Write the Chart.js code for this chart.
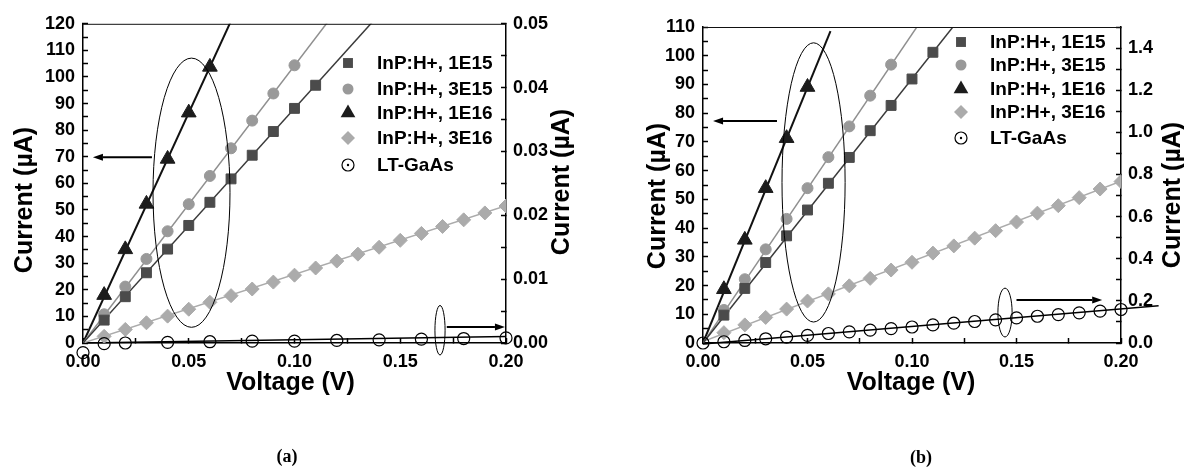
<!DOCTYPE html>
<html>
<head>
<meta charset="utf-8">
<script src="https://cdn.jsdelivr.net/npm/chart.js@4.4.1/dist/chart.umd.min.js"></script>
<style>
  html, body { margin: 0; padding: 0; background: #fff; }
  body { width: 1184px; height: 469px; position: relative; overflow: hidden; }
  canvas { position: absolute; top: 0; }
  #chart-a { left: 0; }
  #chart-b { left: 600px; }
  .panel-label {
    position: absolute;
    font: bold 18px "Liberation Serif", "Times New Roman", serif;
    transform: translate(-50%, -50%);
  }
</style>
</head>
<body>
<canvas id="chart-a" width="600" height="469"></canvas>
<canvas id="chart-b" width="584" height="469"></canvas>
<div class="panel-label" style="left:287px; top:456px">(a)</div>
<div class="panel-label" style="left:921px; top:457px">(b)</div>
<script>
Chart.defaults.font.family = '"Liberation Sans", Arial, sans-serif';
Chart.defaults.color = '#000';

const seriesLabels = ['InP:H+, 1E15', 'InP:H+, 3E15', 'InP:H+, 1E16', 'InP:H+, 3E16', 'LT-GaAs'];

// bias steps of the InP:H+ samples (V)
const voltage = [0.01, 0.02, 0.03, 0.04, 0.05, 0.06, 0.07, 0.08, 0.09, 0.10,
                 0.11, 0.12, 0.13, 0.14, 0.15, 0.16, 0.17, 0.18, 0.19, 0.20];

// ---- panel (a), currents in uA ----
const a1E15 = [8.6, 17.4, 26.4, 35.3, 44.2, 52.9, 61.7, 70.6, 79.5, 88.2, 96.9];
const a3E15 = [10.8, 21.2, 31.6, 42.0, 52.2, 62.8, 73.2, 83.6, 93.8, 104.4];
const a1E16 = [18.0, 35.2, 52.3, 69.2, 86.6, 103.8];
const a3E16 = [2.5, 5.1, 7.6, 10.1, 12.7, 15.3, 17.8, 20.3, 22.9, 25.5,
               28.2, 30.8, 33.4, 36.0, 38.6, 41.2, 43.8, 46.3, 48.9, 51.5];
const aGaAsVoltage = [0, 0.01, 0.02, 0.04, 0.06, 0.08, 0.10, 0.12, 0.14, 0.16, 0.18, 0.20];
const aGaAs = [-0.0015, -0.0001, 0.0000, 0.0001, 0.0002, 0.0003, 0.0003, 0.0004, 0.0005, 0.0006, 0.0007, 0.0008];
// linear fits: start voltage/current, end voltage/current
const aFitStartV = [0, 0, 0, 0, 0];
const aFitStartI = [0, 0, 0, 0, 0];
const aFitEndV = [0.20, 0.20, 0.20, 0.20, 0.20];
const aFitEndI = [176.4, 208.6, 346, 51.6, 0.0010];
// [centre V, centre I, half width V, half height I] and [from V, from I, to V, to I]
const aEllipses = [[0.0513, 56.5, 0.0182, 50.6], [0.1688, 4.8, 0.0024, 9.3]];
const aArrows = [[0.0326, 69.8, 0.0047, 69.8], [0.172, 6.0, 0.1995, 6.0]];

// ---- panel (b) ----
const b1E15 = [9.7, 19.0, 28.0, 37.3, 46.3, 55.6, 64.6, 73.9, 82.7, 91.9, 101.2];
const b3E15 = [11.5, 22.2, 32.6, 43.2, 53.9, 64.7, 75.4, 86.1, 96.9];
const b1E16 = [18.7, 35.9, 53.9, 71.3, 89.1];
const b3E16 = [3.6, 6.3, 8.9, 11.8, 14.6, 17.1, 19.9, 22.5, 25.4, 28.1,
               31.3, 33.8, 36.5, 39.1, 42.1, 45.2, 47.8, 50.6, 53.6, 56.2];
const bGaAsVoltage = [0, 0.01, 0.02, 0.03, 0.04, 0.05, 0.06, 0.07, 0.08, 0.09, 0.10,
                      0.11, 0.12, 0.13, 0.14, 0.15, 0.16, 0.17, 0.18, 0.19, 0.20];
const bGaAs = [0.000, 0.006, 0.012, 0.020, 0.028, 0.036, 0.045, 0.053, 0.061, 0.068, 0.076,
               0.086, 0.094, 0.102, 0.110, 0.119, 0.127, 0.135, 0.143, 0.151, 0.159];
const bFitStartV = [0, 0, 0, 0, 0];
const bFitStartI = [0, 0, 0, 0.5, -0.005];
const bFitEndV = [0.20, 0.20, 0.061, 0.20, 0.218];
const bFitEndI = [184, 215, 108.6, 56.3, 0.177];
const bEllipses = [[0.0529, 55.9, 0.0151, 48.6], [0.1445, 10.6, 0.0034, 8.5]];
const bArrows = [[0.0354, 77.3, 0.0048, 77.3], [0.150, 15.0, 0.191, 15.0]];

const markerStyles = [
  {shape: 'rect', radius: 7, color: '#4b4b4b', line: '#3a3a3a', lineWidth: 1.5},
  {shape: 'circle', radius: 5.5, color: '#999999', line: '#8f8f8f', lineWidth: 1.5},
  {shape: 'triangle', radius: 8.5, color: '#1c1c1c', line: '#111111', lineWidth: 2},
  {shape: 'rectRot', radius: 7, color: '#ababab', line: '#ababab', lineWidth: 1.5},
  {shape: 'circle', radius: 6, color: 'rgba(255,255,255,0)', line: '#000000', lineWidth: 1.5},
];

const tickFont = {size: 18, weight: 'bold'};
const titleFont = 'bold 25px "Liberation Sans", Arial, sans-serif';
const legendFont = 'bold 19px "Liberation Sans", Arial, sans-serif';

function buildDatasets(series, gaasV, gaas, fs) {
  const sets = [];
  series.forEach((cur, i) => {
    const st = markerStyles[i];
    sets.push({
      label: seriesLabels[i],
      data: cur.map((c, k) => ({x: voltage[k], y: c})),
      yAxisID: 'y',
      pointStyle: st.shape,
      pointRadius: st.radius,
      pointHoverRadius: st.radius,
      pointBackgroundColor: st.color,
      pointBorderColor: st.color,
      pointBorderWidth: 1,
      showLine: false,
      order: i + 1,
    });
  });
  sets.push({
    label: seriesLabels[4],
    data: gaas.map((c, k) => ({x: gaasV[k], y: c})),
    yAxisID: 'y2',
    pointStyle: 'circle',
    pointRadius: 6,
    pointHoverRadius: 13,
    pointBackgroundColor: 'rgba(255,255,255,0)',
    pointBorderColor: '#000',
    pointBorderWidth: 1.2,
    showLine: false,
    clip: false,
    order: 0,
  });
  fs.endV.forEach((v, i) => {
    const st = markerStyles[i];
    const ds = {
      label: seriesLabels[i] + ' fit',
      data: [{x: fs.startV[i], y: fs.startI[i]}, {x: v, y: fs.endI[i]}],
      yAxisID: i === 4 ? 'y2' : 'y',
      showLine: true,
      pointRadius: 0,
      borderColor: st.line,
      borderWidth: st.lineWidth,
      order: 10,
    };
    if (i === 4) ds.clip = false;
    sets.push(ds);
  });
  return sets;
}

function drawMarker(ctx, shape, x, y, r) {
  ctx.beginPath();
  if (shape === 'circle') {
    ctx.arc(x, y, r, 0, Math.PI * 2);
  } else if (shape === 'rect') {
    const s = r * Math.SQRT1_2;
    ctx.rect(x - s, y - s, 2 * s, 2 * s);
  } else if (shape === 'triangle') {
    ctx.moveTo(x, y - r);
    ctx.lineTo(x + r * 0.866, y + r / 2);
    ctx.lineTo(x - r * 0.866, y + r / 2);
    ctx.closePath();
  } else if (shape === 'rectRot') {
    ctx.moveTo(x, y - r);
    ctx.lineTo(x + r, y);
    ctx.lineTo(x, y + r);
    ctx.lineTo(x - r, y);
    ctx.closePath();
  }
}

function figurePlugin(cfg) {
  return {
    id: 'figureDecor',
    afterDatasetsDraw(chart) {
      const {ctx, chartArea: area, scales} = chart;
      const px = v => scales.x.getPixelForValue(v);
      const py = v => scales.y.getPixelForValue(v);
      ctx.save();
      // frame top
      ctx.strokeStyle = '#111';
      ctx.lineWidth = 1;
      ctx.beginPath();
      ctx.moveTo(area.left, area.top + 0.5);
      ctx.lineTo(area.right, area.top + 0.5);
      ctx.stroke();
      // ellipses
      cfg.ellipses.forEach(e => {
        const cx = px(e[0]), cy = py(e[1]);
        const rx = Math.abs(px(e[0] + e[2]) - cx), ry = Math.abs(py(e[1] + e[3]) - cy);
        ctx.beginPath();
        ctx.ellipse(cx, cy, rx, ry, 0, 0, Math.PI * 2);
        ctx.lineWidth = 1;
        ctx.strokeStyle = '#000';
        ctx.stroke();
      });
      // arrows
      cfg.arrows.forEach(a => {
        const x1 = px(a[0]), y1 = py(a[1]), x2 = px(a[2]), y2 = py(a[3]);
        const ang = Math.atan2(y2 - y1, x2 - x1);
        const head = 10, half = 3.5;
        ctx.beginPath();
        ctx.moveTo(x1, y1);
        ctx.lineTo(x2 - Math.cos(ang) * head, y2 - Math.sin(ang) * head);
        ctx.lineWidth = 2;
        ctx.strokeStyle = '#000';
        ctx.stroke();
        ctx.beginPath();
        ctx.moveTo(x2, y2);
        ctx.lineTo(x2 - Math.cos(ang) * head - Math.sin(ang) * half, y2 - Math.sin(ang) * head + Math.cos(ang) * half);
        ctx.lineTo(x2 - Math.cos(ang) * head + Math.sin(ang) * half, y2 - Math.sin(ang) * head - Math.cos(ang) * half);
        ctx.closePath();
        ctx.fillStyle = '#000';
        ctx.fill();
      });
      ctx.restore();
    },
    afterDraw(chart) {
      const {ctx, chartArea: area} = chart;
      ctx.save();
      ctx.fillStyle = '#000';
      ctx.font = titleFont;
      ctx.textAlign = 'center';
      ctx.textBaseline = 'middle';
      // axis titles
      ctx.fillText('Voltage (V)', (area.left + area.right) / 2 + cfg.xTitle[0], area.bottom + cfg.xTitle[1]);
      [[area.left - cfg.leftTitle[0], cfg.leftTitle[1]], [area.right + cfg.rightTitle[0], cfg.rightTitle[1]]].forEach(p => {
        ctx.save();
        ctx.translate(p[0], p[1]);
        ctx.rotate(-Math.PI / 2);
        ctx.fillText('Current (\u00b5A)', 0, 0);
        ctx.restore();
      });
      // legend
      ctx.font = legendFont;
      ctx.textAlign = 'left';
      seriesLabels.forEach((label, i) => {
        const st = markerStyles[i];
        const y = cfg.legend.rows[i];
        drawMarker(ctx, st.shape, cfg.legend.x, y, st.radius);
        if (i === 4) {
          ctx.lineWidth = 1.2;
          ctx.strokeStyle = '#000';
          ctx.stroke();
          ctx.beginPath();
          ctx.arc(cfg.legend.x, y, 1.2, 0, Math.PI * 2);
          ctx.fillStyle = '#000';
          ctx.fill();
        } else {
          ctx.fillStyle = st.color;
          ctx.fill();
        }
        ctx.fillStyle = '#000';
        ctx.fillText(label, cfg.legend.textX, y + 1);
      });
      ctx.restore();
    },
  };
}

function axis(position, min, max, step, label, size, padding) {
  const horizontal = position === 'bottom';
  return {
    type: 'linear',
    position,
    min, max,
    afterFit: s => { if (horizontal) s.height = size; else s.width = size; },
    ticks: {
      stepSize: step,
      autoSkip: false,
      maxRotation: 0,
      padding,
      color: '#000',
      font: tickFont,
      callback: label,
    },
    grid: {drawOnChartArea: false, tickLength: -5, tickColor: '#000', tickWidth: 1.5},
    border: {display: true, color: '#000', width: 1.5},
  };
}

function makeChart(id, cfg) {
  const canvas = document.getElementById(id);
  return new Chart(canvas.getContext('2d'), {
    type: 'scatter',
    data: {datasets: buildDatasets(cfg.series, cfg.gaasV, cfg.gaas, cfg.fits)},
    options: {
      responsive: false,
      animation: false,
      devicePixelRatio: 1,
      events: [],
      layout: {padding: {top: cfg.top, left: 0, right: 0, bottom: 0}},
      plugins: {legend: {display: false}, tooltip: {enabled: false}},
      scales: {
        x: axis('bottom', 0, 0.2, 0.025, v => (Math.round(v * 1000) % 50 === 0 ? v.toFixed(2) : ''), cfg.bottom, 13),
        y: axis('left', 0, cfg.leftMax, 5, v => (Math.round(v) % 10 === 0 ? String(Math.round(v)) : ''), cfg.leftW, 13),
        y2: axis('right', 0, cfg.rightMax, cfg.rightStep, cfg.rightLabel, cfg.rightW, 12),
      },
    },
    plugins: [figurePlugin(cfg)],
  });
}

makeChart('chart-a', {
  series: [a1E15, a3E15, a1E16, a3E16],
  gaasV: aGaAsVoltage, gaas: aGaAs,
  fits: {startV: aFitStartV, startI: aFitStartI, endV: aFitEndV, endI: aFitEndI},
  ellipses: aEllipses, arrows: aArrows,
  leftMax: 120, rightMax: 0.05, rightStep: 0.005,
  rightLabel: v => (Math.round(v * 1000) % 10 === 0 ? v.toFixed(2) : ''),
  top: 20, bottom: 126, leftW: 83, rightW: 94,
  xTitle: [-4, 40], leftTitle: [58, 200], rightTitle: [56, 182],
  legend: {x: 348, textX: 377, rows: [63, 89, 113, 138, 165]},
});

makeChart('chart-b', {
  series: [b1E15, b3E15, b1E16, b3E16],
  gaasV: bGaAsVoltage, gaas: bGaAs,
  fits: {startV: bFitStartV, startI: bFitStartI, endV: bFitEndV, endI: bFitEndI},
  ellipses: bEllipses, arrows: bArrows,
  leftMax: 110, rightMax: 1.5, rightStep: 0.1,
  rightLabel: v => (Math.round(v * 10) % 2 === 0 ? v.toFixed(1) : ''),
  top: 27, bottom: 126, leftW: 103, rightW: 63,
  xTitle: [-1, 40], leftTitle: [45, 196], rightTitle: [52, 195],
  legend: {x: 361, textX: 390, rows: [42, 65, 89, 112, 138]},
});
</script>
</body>
</html>
